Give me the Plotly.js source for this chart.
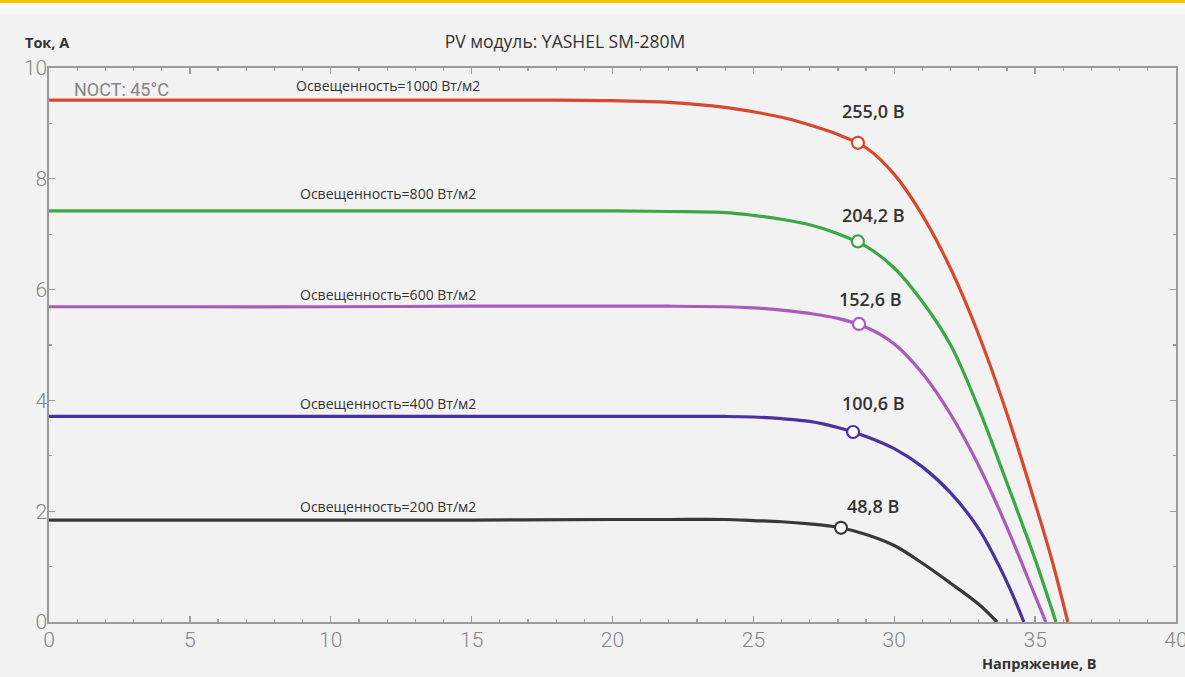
<!DOCTYPE html>
<html>
<head>
<meta charset="utf-8">
<script src="https://cdn.plot.ly/plotly-3.0.1.min.js"></script>
<style>
  html, body { margin: 0; padding: 0; background: #f2f2f2; }
  #band1 { position: absolute; left: 0; top: 0; width: 1185px; height: 3px; background: #f7c400; }
  #band2 { position: absolute; left: 0; top: 3px; width: 1185px; height: 11px; background: #f7f8fa; }
  #chart { position: absolute; left: 0; top: 0; width: 1185px; height: 677px; }
</style>
</head>
<body>
<div id="band1"></div>
<div id="band2"></div>
<div id="chart"></div>
<script>
// ---- data ----
const irradianceLabels = ["Освещенность=1000 Вт/м2", "Освещенность=800 Вт/м2", "Освещенность=600 Вт/м2", "Освещенность=400 Вт/м2", "Освещенность=200 Вт/м2"];
const powerLabels = ["255,0 В", "204,2 В", "152,6 В", "100,6 В", "48,8 В"];
const seriesColors = ["#d8482a", "#3aa843", "#a95bba", "#4a30a0", "#383838"];

const v1000 = [0, 5, 10, 15, 18, 20, 22, 24, 25, 26, 27, 28, 29, 30, 31, 32, 33, 34, 35, 35.6, 36.16];
const i1000 = [9.42, 9.42, 9.42, 9.42, 9.42, 9.41, 9.38, 9.29, 9.21, 9.11, 8.97, 8.80, 8.56, 8.08, 7.34, 6.38, 5.18, 3.76, 2.14, 1.11, 0];

const v800 = [0, 5, 10, 15, 20, 22, 24, 25, 26, 27, 28, 29, 30, 31, 32, 33, 34, 35, 35.74];
const i800 = [7.42, 7.42, 7.42, 7.42, 7.42, 7.41, 7.39, 7.34, 7.27, 7.17, 7.01, 6.78, 6.39, 5.78, 5.00, 3.85, 2.51, 1.13, 0];

const v600 = [0, 5, 10, 15, 20, 22, 24, 25, 26, 27, 28, 29, 30, 31, 32, 33, 34, 35, 35.38];
const i600 = [5.69, 5.69, 5.69, 5.70, 5.70, 5.70, 5.69, 5.67, 5.63, 5.57, 5.48, 5.32, 5.02, 4.49, 3.75, 2.82, 1.71, 0.47, 0];

const v400 = [0, 5, 10, 15, 20, 22, 24, 25, 26, 27, 28, 29, 30, 31, 32, 33, 34, 34.6];
const i400 = [3.71, 3.71, 3.71, 3.71, 3.71, 3.71, 3.71, 3.70, 3.67, 3.62, 3.51, 3.35, 3.13, 2.80, 2.33, 1.68, 0.72, 0];

const v200 = [0, 5, 10, 15, 20, 22, 24, 25, 26, 27, 28, 29, 30, 31, 32, 33, 33.65];
const i200 = [1.84, 1.84, 1.84, 1.84, 1.85, 1.85, 1.85, 1.83, 1.81, 1.77, 1.71, 1.58, 1.38, 1.06, 0.70, 0.32, 0];

const mppV = [28.71, 28.71, 28.75, 28.54, 28.11];
const mppI = [8.65, 6.87, 5.38, 3.43, 1.70];

// label anchor positions (data units)
const irrLabelX = [12.04, 12.04, 12.04, 12.04, 12.04];
const irrLabelY = [9.69, 7.74, 5.92, 3.95, 2.08];
const powLabelX = [29.25, 29.25, 29.15, 29.25, 29.25];
const powLabelY = [9.22, 7.35, 5.83, 3.95, 2.09];

const xTickVals = [0, 5, 10, 15, 20, 25, 30, 35, 40];
const yTickVals = [0, 2, 4, 6, 8, 10];

const titleText = "PV модуль: YASHEL SM-280M";
const yTitleText = "Ток, А";
const xTitleText = "Напряжение, В";
const noctText = "NOCT: 45°C";

// ---- build traces ----
const vs = [v1000, v800, v600, v400, v200];
const is = [i1000, i800, i600, i400, i200];
const traces = [];
for (let k = 0; k < vs.length; k++) {
  traces.push({
    x: vs[k], y: is[k], type: 'scatter', mode: 'lines',
    line: { color: seriesColors[k], width: 3.2, shape: 'spline', smoothing: 1 },
    hoverinfo: 'skip', showlegend: false
  });
}
for (let k = 0; k < mppV.length; k++) {
  traces.push({
    x: [mppV[k]], y: [mppI[k]], type: 'scatter', mode: 'markers',
    marker: { size: 12, color: '#ffffff', line: { color: seriesColors[k], width: 2.2 } },
    hoverinfo: 'skip', showlegend: false
  });
}

const annotations = [];
for (let k = 0; k < irradianceLabels.length; k++) {
  annotations.push({
    x: irrLabelX[k], y: irrLabelY[k], xref: 'x', yref: 'y', text: irradianceLabels[k],
    showarrow: false, xanchor: 'center', yanchor: 'middle',
    font: { family: 'Open Sans, sans-serif', size: 14, color: '#333333' }
  });
  annotations.push({
    x: powLabelX[k], y: powLabelY[k], xref: 'x', yref: 'y', text: powerLabels[k],
    showarrow: false, xanchor: 'center', yanchor: 'middle',
    font: { family: 'Open Sans, sans-serif', size: 18, color: '#333333', weight: 600 }
  });
}
annotations.push({
  x: 0.82, y: 9.62, xref: 'x', yref: 'y', text: noctText, showarrow: false,
  xanchor: 'left', yanchor: 'middle',
  font: { family: 'Liberation Sans Narrow, Roboto, sans-serif', size: 18, color: '#858585' }
});
annotations.push({
  x: (47 - 49) / 1127, y: (622 - 42) / 554, xref: 'paper', yref: 'paper', text: yTitleText,
  showarrow: false, xanchor: 'center', yanchor: 'middle',
  font: { family: 'Open Sans, sans-serif', size: 14.5, color: '#333333', weight: 700 }
});
annotations.push({
  x: (1039 - 49) / 1127, y: (622 - 663) / 554, xref: 'paper', yref: 'paper', text: xTitleText,
  showarrow: false, xanchor: 'center', yanchor: 'middle',
  font: { family: 'Open Sans, sans-serif', size: 14.5, color: '#333333', weight: 700 }
});

const axisCommon = {
  showgrid: false, zeroline: false, showline: true, linecolor: '#9a9a9a', linewidth: 1.6,
  mirror: 'allticks', ticks: 'inside', tickcolor: '#9a9a9a', tickwidth: 1.3, ticklen: 6,
  tickfont: { family: 'Roboto, sans-serif', size: 21, color: '#858585', weight: 300 },
  ticklabeloverflow: 'allow',
  fixedrange: true
};

const layout = {
  width: 1185, height: 677,
  margin: { l: 49, r: 9, t: 68, b: 55, pad: 0 },
  paper_bgcolor: 'rgba(0,0,0,0)', plot_bgcolor: '#f2f2f2',
  title: {
    text: titleText, xref: 'container', yref: 'container',
    x: 565 / 1185, y: 1 - 42 / 677, xanchor: 'center', yanchor: 'middle',
    font: { family: 'Open Sans, sans-serif', size: 17.5, color: '#333333' }
  },
  xaxis: Object.assign({}, axisCommon, {
    range: [0, 40], tickmode: 'array', tickvals: xTickVals, ticklabelstandoff: -2,
    minor: { dtick: 1, ticks: 'inside', ticklen: 3, tickcolor: '#9a9a9a', tickwidth: 1.2 }
  }),
  yaxis: Object.assign({}, axisCommon, {
    range: [0, 10], tickmode: 'array', tickvals: yTickVals, ticklabelstandoff: -4,
    minor: { dtick: 1, ticks: 'inside', ticklen: 3, tickcolor: '#9a9a9a', tickwidth: 1.2 }
  }),
  annotations: annotations,
  showlegend: false,
  hovermode: false
};

Plotly.newPlot('chart', traces, layout, { displayModeBar: false, staticPlot: true });
</script>
</body>
</html>
